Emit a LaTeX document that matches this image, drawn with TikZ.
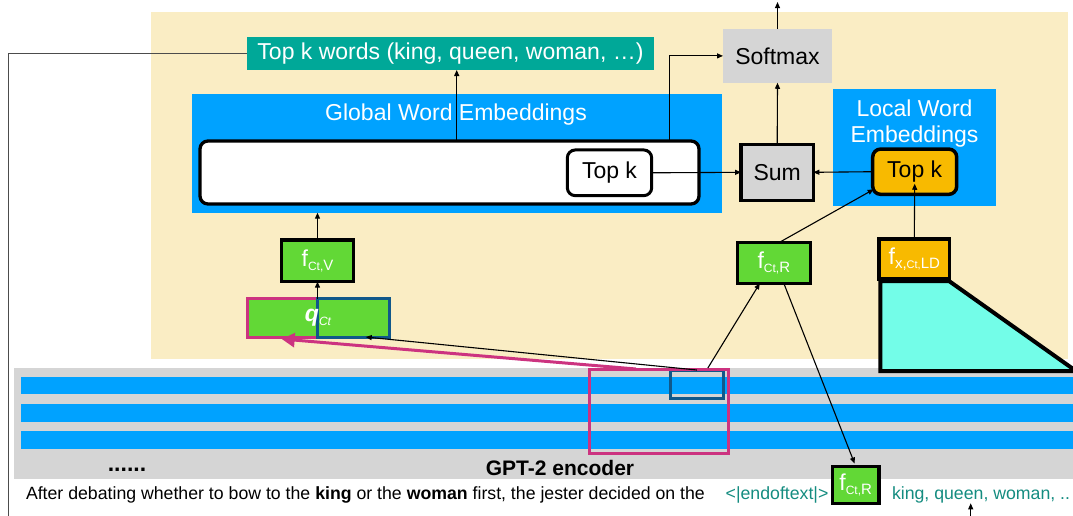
\documentclass[tikz,border=0pt]{standalone}
\usepackage{fontspec}
\setmainfont{Liberation Sans}
\usetikzlibrary{arrows.meta,calc}
\definecolor{bgyellow}{RGB}{250,237,196}
\definecolor{tealbox}{RGB}{0,168,152}
\definecolor{blueE}{RGB}{0,162,255}
\definecolor{grayE}{RGB}{213,213,213}
\definecolor{greenF}{RGB}{98,216,54}
\definecolor{orangeF}{RGB}{248,186,0}
\definecolor{cyanT}{RGB}{115,253,232}
\definecolor{pinkM}{RGB}{204,51,128}
\definecolor{darkB}{RGB}{16,88,138}
\definecolor{tealtxt}{RGB}{20,140,128}
\newcommand{\fsz}[1]{\fontsize{#1}{#1}\selectfont}
\newcommand{\flab}[3]{f\raisebox{-4pt}{\fsz{12}#1}\raisebox{-4pt}{\fsz{15}#2}\raisebox{-4pt}{\fsz{15}#3}}
\tikzset{
  bx/.style={rectangle, inner sep=0pt, outer sep=0pt, font=\fsz{23}},
  arr/.style={draw=black, line width=1.1pt, -{Triangle[length=6pt,width=5pt]}},
  thickbd/.style={draw=black, line width=3.5pt},
  fbox/.style={bx, thickbd, text=white},
}
\begin{document}
\begin{tikzpicture}[x=1pt,y=-1pt]
\useasboundingbox (0,0) rectangle (1073,515);
% backgrounds
\fill[bgyellow] (151,12) rectangle (1068,359);
\fill[grayE] (14,368) rectangle (1080,479.3);
\fill[blueE] (21,376.7) rectangle (1080,394);
\fill[blueE] (21,404) rectangle (1080,421.7);
\fill[blueE] (21,431) rectangle (1080,449);

% top k words
\node[bx, fill=tealbox, text=white, minimum width=407pt, minimum height=33pt] (tk) at (450.5,53.5) {Top k words (king, queen, woman, …)};

% global word embeddings
\node[bx, fill=blueE, minimum width=530pt, minimum height=118.7pt] (gwe) at (457,153.35) {};
\node[bx, anchor=base, text=white] (gwt) at (456,120) {Global Word Embeddings};
\node[bx, draw=black, line width=3.3pt, rounded corners=8pt, fill=white, minimum width=499pt, minimum height=63pt] (gwr) at (449.5,172.5) {};
\node[bx, draw=black, line width=3pt, rounded corners=8pt, fill=white, minimum width=84.4pt, minimum height=45.7pt] (tk1) at (609.5,172.8) {Top k};

% softmax and sum
\node[bx, fill=grayE, minimum width=109pt, minimum height=53.7pt] (soft) at (777.5,55.9) {Softmax};
\node[bx, thickbd, fill=grayE, minimum width=72.3pt, minimum height=56pt] (sum) at (777.2,172.3) {Sum};

% local word embeddings
\node[bx, fill=blueE, minimum width=163pt, minimum height=116.7pt] (lwe) at (914.5,147.35) {};
\node[bx, anchor=base, text=white] (lw1) at (914.5,116) {Local Word};
\node[bx, anchor=base, text=white] (lw2) at (914.5,142) {Embeddings};
\node[bx, draw=black, line width=3.5pt, rounded corners=8pt, fill=orangeF, minimum width=84pt, minimum height=45.3pt] (tk2) at (914.7,171.7) {Top k};

% f boxes
\node[fbox, fill=greenF, minimum width=71.6pt, minimum height=41.7pt] (fV) at (317.5,260.8) {\flab{Ct,}{V}{}};
\node[fbox, fill=greenF, minimum width=73pt, minimum height=40.6pt] (fR1) at (773.8,263) {\flab{Ct,}{R}{}};
\node[fbox, fill=orangeF, minimum width=70.7pt, minimum height=40pt] (fX) at (914.3,259) {f\raisebox{-4pt}{\fsz{15}x,}\raisebox{-4pt}{\fsz{11}Ct,}\raisebox{-4pt}{\fsz{15}LD}};
\draw[black, line width=4pt, fill=cyanT, line join=miter] (880.3,281) -- (949,281) -- (1076,371) -- (880.3,371) -- cycle;

% q box
\node[bx, fill=greenF, minimum width=141.6pt, minimum height=38.3pt] (q) at (318.5,317.85) {};
\draw[pinkM, line width=3pt] (247.7,298.7) rectangle (317.3,337);
\draw[darkB, line width=3pt] (317.3,298.7) rectangle (389.3,337);
\node[bx, text=white] (qt) at (318,318) {\textbf{\textit{q}}\raisebox{-4pt}{\fsz{12}\itshape Ct}};

% encoder boxes
\node[bx, draw=darkB, line width=3pt, minimum width=52.3pt, minimum height=28.3pt] (sb) at (696.85,384.15) {};
\node[bx, draw=pinkM, line width=3pt, minimum width=139.7pt, minimum height=84.3pt] (pb) at (658.85,411.15) {};

% encoder texts
\node[bx, anchor=base, font=\fsz{23}\bfseries] (dots) at (127,471.7) {......};
\node[bx, anchor=base, font=\fsz{21}\bfseries] (gpt) at (560,475) {GPT-2 encoder};
\node[bx, anchor=base west, font=\fsz{17.7}] (sent) at (26,499) {After debating whether to bow to the \textbf{king} or the \textbf{woman} first, the jester decided on the};
\node[bx, anchor=base west, font=\fsz{17.7}, text=tealtxt] (eot) at (725.7,499) {<|endoftext|>};
\node[fbox, fill=greenF, minimum width=46.7pt, minimum height=37pt] (fR2) at (855.7,484.8) {\flab{Ct,}{R}{}};
\node[bx, anchor=base west, font=\fsz{17.7}, text=tealtxt] (kq) at (892,499) {king, queen, woman, ..};

% connectors
\draw[arr] (456.7,0 |- gwr.north) -- (456.7,0 |- tk.south);
\draw[arr] (fV.north) -- (fV.north |- gwe.south);
\draw[arr] (fV.south |- q.north) -- (fV.south);
\draw[arr] (669.3,0 |- gwr.north) |- (soft.west);
\draw[arr] (soft.north) -- ++(0,-27);
\draw[arr] (sum.north) -- (soft.south);
\draw[arr] (tk1.east) -- (sum.west);
\draw[arr] (tk2.west) -- (sum.east);
\draw[arr] ($(fR1.north)+(5,0)$) -- ($(tk2.south west)+(1,-5)$);
\draw[arr] (fX.north) -- ($(tk2.south)+(0,-10.6)$);
\draw[arr] ($(sb.north)+(11,-2)$) -- ($(fR1.south)+(-14,0)$);
\draw[arr, shorten >=3pt] ($(fR1.south)+(10,0)$) -- (fR2.north);
\draw[arr] (sb.north) -- (365.7,0 |- q.south);
\draw[pinkM, line width=3pt, -{Triangle[length=13pt,width=14pt]}] ($(pb.north west)+(47,0)$) -- ($(q.south west)+(34,2)$);
\coordinate (lc) at (8.3,0 |- tk.west);
\coordinate (lb) at (8.3,520);
\draw[black!70, line width=1.3pt] (tk.west) -- (lc) -- (lb);
\coordinate (bb) at (970.7,520);
\draw[arr] (bb) -- (970.7,0 |- fR2.south);
\end{tikzpicture}
\end{document}
